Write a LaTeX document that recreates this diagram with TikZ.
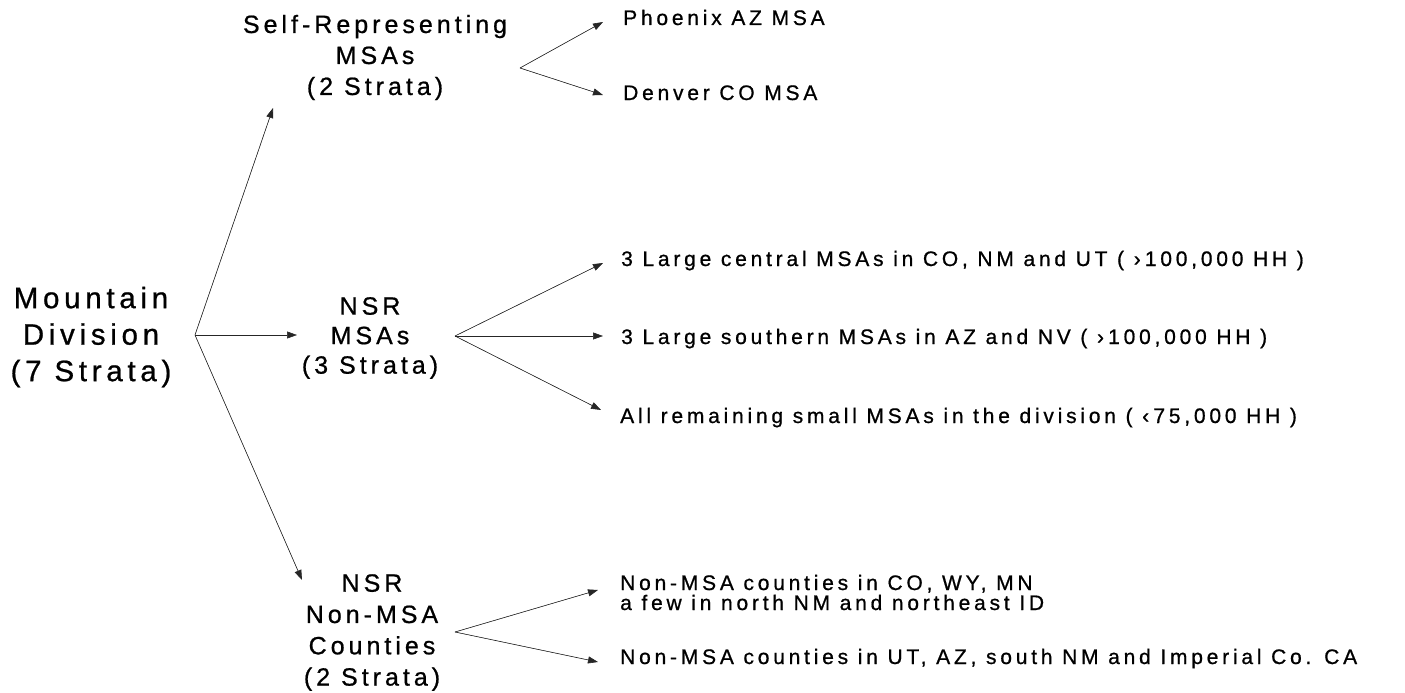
\documentclass[tikz,border=0pt]{standalone}
\usepackage{fontspec}
\setmainfont{Liberation Sans}[LetterSpace=16, FakeBold=0.8]
\newfontfamily\leaffont{Liberation Sans}[LetterSpace=18, FakeBold=0.8]
\usetikzlibrary{arrows.meta}
\begin{document}
\begin{tikzpicture}[x=1pt,y=-1pt,
  arr/.style={-{Triangle[length=10pt,width=7pt]}, line width=0.6pt, draw=black!85, fill=black},
  big/.style={font=\fontsize{29.5}{36.5}\selectfont, align=center, inner sep=0pt},
  mid/.style={font=\fontsize{25}{31}\selectfont, align=center, inner sep=0pt},
  leaf/.style={font=\leaffont\fontsize{21}{20}\selectfont, align=left, inner sep=0pt}]
\useasboundingbox (0,0) rectangle (1405,693);
% left and middle column
\node[big] (mtn) at (91,337) {Mountain\\Division\\(7 Strata)};
\node[mid] (sr) at (375,57.5) {Self-Representing\\MSAs\\(2 Strata)};
\node[mid, font=\fontsize{25}{29.5}\selectfont] (nsr) at (370,338) {NSR\\MSAs\\(3 Strata)};
\node[mid, font=\fontsize{25}{31.3}\selectfont] (nonmsa) at (372,632.5) {NSR\\Non-MSA\\Counties\\(2 Strata)};
% leaves
\node[leaf, anchor=base west] (phx) at (623,25) {Phoenix AZ MSA};
\node[leaf, anchor=base west] (den) at (623,100) {Denver CO MSA};
\node[leaf, anchor=base west] (c1) at (621,266) {3 Large central MSAs in CO, NM and UT ( ›\hspace{0.2em}100,000 HH )};
\node[leaf, anchor=base west] (c2) at (621,344) {3 Large southern MSAs in AZ and NV ( ›\hspace{0.2em}100,000 HH )};
\node[leaf, anchor=base west] (c3) at (620,423) {All remaining small MSAs in the division ( ‹\hspace{0.2em}75,000 HH )};
\node[leaf, anchor=base west] (n1) at (620,590) {Non-MSA counties in CO, WY, MN};
\node[leaf, anchor=base west] (n1b) at (620,610) {a few in north NM and northeast ID};
\node[leaf, anchor=base west] (n2) at (620,664) {Non-MSA counties in UT, AZ, south NM and Imperial Co. CA};
% forks and tips
\coordinate (fm) at (195,335);
\coordinate (fs) at (520,68);
\coordinate (fn) at (455,336);
\coordinate (fc) at (455,632);
\coordinate (tsr) at (273,108);
\coordinate (tnsr) at (297,335);
\coordinate (tnon) at (302,580);
\coordinate (tphx) at (603,22);
\coordinate (tden) at (603,95);
\coordinate (tc1) at (603,263);
\coordinate (tc2) at (603,336);
\coordinate (tc3) at (601,410);
\coordinate (tn1) at (598,590);
\coordinate (tn2) at (598,662);
\draw[arr] (fm) -- (tsr);
\draw[arr] (fm) -- (tnsr);
\draw[arr] (fm) -- (tnon);
\draw[arr] (fs) -- (tphx);
\draw[arr] (fs) -- (tden);
\draw[arr] (fn) -- (tc1);
\draw[arr] (fn) -- (tc2);
\draw[arr] (fn) -- (tc3);
\draw[arr] (fc) -- (tn1);
\draw[arr] (fc) -- (tn2);
\end{tikzpicture}
\end{document}
